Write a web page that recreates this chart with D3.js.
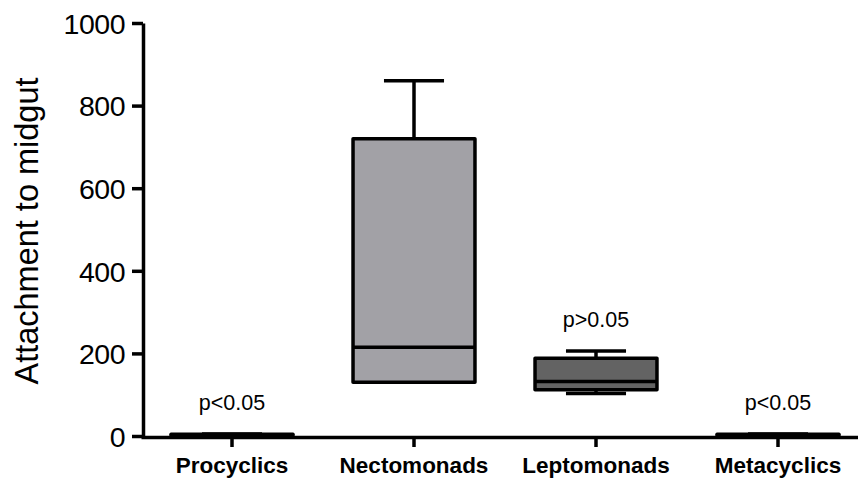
<!DOCTYPE html>
<html>
<head>
<meta charset="utf-8">
<script src="https://cdn.jsdelivr.net/npm/d3@7"></script>
<style>
  html, body { margin: 0; padding: 0; background: #fff; }
  svg { display: block; }
  text { font-family: "Liberation Sans", Arial, sans-serif; fill: #000; }
</style>
</head>
<body>
<svg id="chart" width="858" height="479"></svg>
<script>
// ---- data ----
const categories = ["Procyclics", "Nectomonads", "Leptomonads", "Metacyclics"];
const minValues    = [0, 130, 103, 0];
const q1Values     = [0, 130, 112, 0];
const medianValues = [2, 215, 132, 2];
const q3Values     = [4, 720, 188, 4];
const maxValues    = [5, 860, 206, 5];
const fillColors   = ["#ffffff", "#a2a1a6", "#636363", "#ffffff"];
const pLabels      = ["p<0.05", "", "p>0.05", "p<0.05"];
const yTicks       = [0, 200, 400, 600, 800, 1000];
const yTitle       = "Attachment to midgut";

// ---- layout ----
const svg = d3.select("#chart");
const x = d3.scaleBand().domain(categories).range([141, 869]).paddingInner(0).paddingOuter(0);
const y = d3.scaleLinear().domain([0, 1000]).range([436, 23]);
const boxW = x.bandwidth() * 0.67;
const capW = x.bandwidth() * 0.33;

// y axis
const yAxis = svg.append("g")
  .attr("transform", "translate(143,0)")
  .call(d3.axisLeft(y).tickValues(yTicks).tickSize(11).tickSizeOuter(0).tickPadding(7).tickFormat(d3.format("d")));
yAxis.select(".domain").attr("stroke", "#000").attr("stroke-width", 3.5);
yAxis.selectAll(".tick line").attr("stroke", "#000").attr("stroke-width", 3.5);
yAxis.selectAll(".tick text").attr("font-size", 28.5).attr("font-family", "'Liberation Sans', Arial, sans-serif").attr("fill", "#000").attr("dy", "0.36em").attr("letter-spacing", -0.5);

// x axis
const xAxis = svg.append("g")
  .attr("transform", "translate(0,437)")
  .call(d3.axisBottom(x).tickSize(10).tickSizeOuter(0).tickPadding(10));
xAxis.select(".domain").attr("stroke", "#000").attr("stroke-width", 3.5);
xAxis.selectAll(".tick line").attr("stroke", "#000").attr("stroke-width", 3.5);
xAxis.selectAll(".tick text").attr("font-size", 22.5).attr("font-weight", "bold").attr("font-family", "'Liberation Sans', Arial, sans-serif").attr("fill", "#000");

// y title
svg.append("text")
  .attr("transform", "translate(38,231) rotate(-90)")
  .attr("text-anchor", "middle")
  .attr("font-size", 32.5)
  .text(yTitle);

// boxes
const data = categories.map((c, i) => ({
  c, min: minValues[i], q1: q1Values[i], med: medianValues[i], q3: q3Values[i], max: maxValues[i],
  fill: fillColors[i], p: pLabels[i]
}));

const g = svg.append("g");
data.forEach(d => {
  const cx = x(d.c) + x.bandwidth() / 2;
  const stroke = 3.5;
  g.append("line").attr("x1", cx).attr("x2", cx).attr("y1", y(d.q3)).attr("y2", y(d.max))
    .attr("stroke", "#000").attr("stroke-width", stroke);
  g.append("line").attr("x1", cx - capW / 2).attr("x2", cx + capW / 2).attr("y1", y(d.max)).attr("y2", y(d.max))
    .attr("stroke", "#000").attr("stroke-width", stroke);
  g.append("line").attr("x1", cx).attr("x2", cx).attr("y1", y(d.q1)).attr("y2", y(d.min))
    .attr("stroke", "#000").attr("stroke-width", stroke);
  g.append("line").attr("x1", cx - capW / 2).attr("x2", cx + capW / 2).attr("y1", y(d.min)).attr("y2", y(d.min))
    .attr("stroke", "#000").attr("stroke-width", stroke);
  g.append("rect").attr("x", cx - boxW / 2).attr("width", boxW)
    .attr("y", y(d.q3)).attr("height", Math.max(0, y(d.q1) - y(d.q3)))
    .attr("fill", d.fill).attr("stroke", "#000").attr("stroke-width", stroke).attr("stroke-linejoin", "round");
  g.append("line").attr("x1", cx - boxW / 2).attr("x2", cx + boxW / 2).attr("y1", y(d.med)).attr("y2", y(d.med))
    .attr("stroke", "#000").attr("stroke-width", stroke);
  if (d.p) {
    g.append("text").attr("x", cx).attr("y", y(d.max) - 24)
      .attr("text-anchor", "middle").attr("font-size", 21.5).text(d.p);
  }
});
</script>
</body>
</html>
